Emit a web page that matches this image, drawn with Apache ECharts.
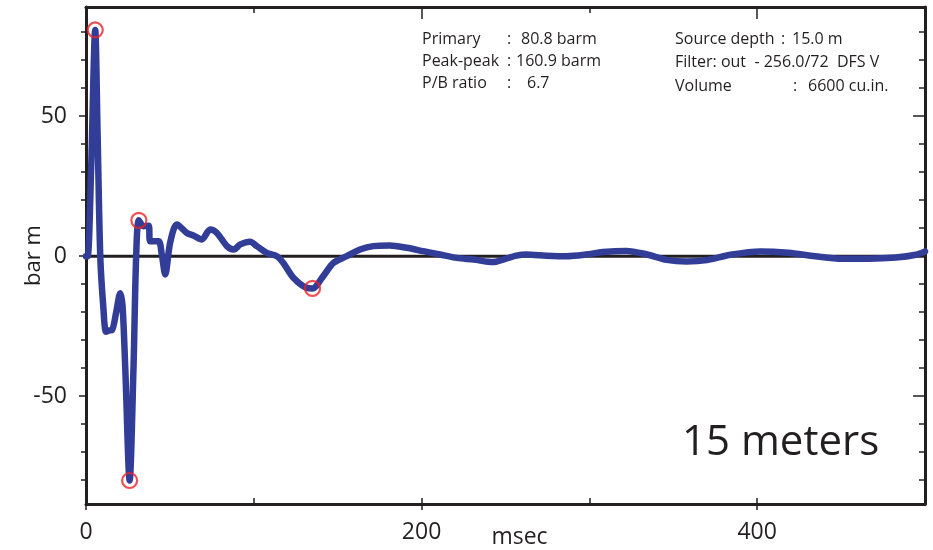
<!DOCTYPE html>
<html>
<head>
<meta charset="utf-8">
<script src="https://cdn.jsdelivr.net/npm/echarts@6/dist/echarts.min.js"></script>
<style>
  html, body { margin: 0; padding: 0; background: #fff; }
  #pulseChart { width: 933px; height: 550px; }
</style>
</head>
<body>
<div id="pulseChart"></div>
<script>
// signature (msec / bar m)
const timeMs = [0, 1, 3, 5.5, 6.9, 8.5, 10.3, 12, 14, 15.5, 18, 20.4, 21.8, 23.4, 26, 28.3, 29.9, 31.5,
  34.3, 37.3, 38.3, 43.2, 45.2, 47.2, 50.2, 54.2, 60.1, 64, 69, 74, 78, 84, 88, 92, 97.8, 101.8,
  107.7, 113.7, 117.6, 123.6, 131.5, 135, 141.4, 147.4, 155.4, 163.3, 171.2, 181, 191, 201, 211,
  221, 231, 242.6, 248.6, 256.5, 262.5, 274.4, 286.3, 298, 308, 322, 334, 346, 358, 370, 384,
  402, 418.5, 434.5, 450.5, 466.6, 482.6, 494.6, 500];
const pressure = [0, 0, 30, 80.8, 44, 0, -18, -27, -26.5, -26.4, -20, -13.2, -18, -40, -80.1, -40, 0, 12.8,
  10.7, 10.9, 5.3, 5.3, 0.5, -6.5, 5, 11.3, 8.3, 7.4, 6, 9.5, 8.3, 3.6, 2.4, 4.2, 5.2, 3.6,
  1.2, 0, -2.4, -7.7, -11.3, -11.5, -7.1, -2.4, 0, 2.4, 3.6, 3.8, 3, 1.8, 0.6,
  -0.6, -1.2, -2.1, -1.2, 0.2, 0.6, 0.2, 0, 0.6, 1.5, 1.9, 0.7, -1.3, -1.9, -1.4, 0.5,
  1.7, 1.2, 0, -0.9, -0.9, -0.5, 0.5, 1.7];

// picked peaks (red circles)
const peakTimeMs = [5.5, 26, 31.5, 135];
const peakPressure = [80.8, -80.1, 12.8, -11.5];

// axes
const timeRange = [0, 500];
const pressureRange = [-88.5, 89];
const xLabelTicks = [0, 200, 400];
const xInnerTicks = [100, 200, 300, 400];
const xTopMajorTicks = [200, 400];
const xTopMinorTicks = [100, 300];
const yLabelTicks = [-50, 0, 50];
const yMinorTicks = [-80, -70, -60, -40, -30, -20, -10, 10, 20, 30, 40, 60, 70, 80];

const ink = '#231f20';
const font = '"Open Sans", "Noto Sans", sans-serif';
const noteFont = '16px ' + font;

const chart = echarts.init(document.getElementById('pulseChart'));

function xAxisCfg(position, ticks, inside, len, lineShow, extra) {
  return Object.assign({
    type: 'value', position: position, min: timeRange[0], max: timeRange[1],
    axisLine: { show: lineShow, onZero: false, lineStyle: { color: ink, width: 3 } },
    axisTick: { show: true, inside: inside, length: len, customValues: ticks, lineStyle: { color: ink, width: 1.5 } },
    axisLabel: { show: false },
    splitLine: { show: false }
  }, extra || {});
}
function yAxisCfg(position, ticks, inside, len, lineShow, extra) {
  return Object.assign({
    type: 'value', position: position, min: pressureRange[0], max: pressureRange[1],
    axisLine: { show: lineShow, onZero: false, lineStyle: { color: ink, width: 3 } },
    axisTick: { show: true, inside: inside, length: len, customValues: ticks, lineStyle: { color: ink, width: 1.5 } },
    axisLabel: { show: false },
    splitLine: { show: false }
  }, extra || {});
}

function note(x, y, text) {
  return { type: 'text', x: x, y: y, style: { text: text, font: noteFont, fill: ink, verticalAlign: 'middle' } };
}

const option = {
  animation: false,
  backgroundColor: '#fff',
  grid: { left: 86, right: 8, top: 7, bottom: 46, outerBoundsMode: 'none', containLabel: false },
  xAxis: [
    xAxisCfg('bottom', xLabelTicks, false, 6, true, {
      name: 'msec', nameLocation: 'middle', nameGap: 22, nameMoveOverlap: false,
      nameTextStyle: { color: ink, fontSize: 23, fontFamily: font, padding: [0, 0, 0, 28] },
      axisLabel: { show: true, customValues: xLabelTicks, margin: 17, color: ink, fontSize: 23, fontFamily: font }
    }),
    xAxisCfg('bottom', xInnerTicks, true, 6, false),
    xAxisCfg('top', xTopMinorTicks, true, 6, true),
    xAxisCfg('top', xTopMajorTicks, true, 12, false)
  ],
  yAxis: [
    yAxisCfg('left', yLabelTicks, false, 7, true, {
      name: 'bar m', nameLocation: 'middle', nameGap: 41, nameRotate: 90, nameMoveOverlap: false,
      nameTextStyle: { color: ink, fontSize: 22, fontFamily: font },
      axisLabel: { show: true, customValues: yLabelTicks, margin: 19, color: ink, fontSize: 23, fontFamily: font }
    }),
    yAxisCfg('left', yMinorTicks, false, 5, false),
    yAxisCfg('right', yMinorTicks, true, 6, true),
    yAxisCfg('right', yLabelTicks, true, 12, false)
  ],
  series: [
    {
      name: 'zero',
      type: 'line',
      silent: true,
      symbol: 'none',
      lineStyle: { color: ink, width: 3 },
      data: timeRange.map(t => [t, 0]),
      z: 1
    },
    {
      name: 'Signature',
      type: 'line',
      smooth: 0.3,
      symbol: 'none',
      lineStyle: { color: '#323d97', width: 6.5, join: 'round', cap: 'round' },
      data: timeMs.map((t, i) => [t, pressure[i]]),
      z: 2
    },
    {
      name: 'Peaks',
      type: 'scatter',
      symbol: 'circle',
      symbolSize: 15,
      itemStyle: { color: 'rgba(0,0,0,0)', borderColor: '#ec2227', borderWidth: 2.2 },
      data: peakTimeMs.map((t, i) => [t, peakPressure[i]]),
      z: 3
    }
  ],
  graphic: [
    note(422, 39, 'Primary'), note(507, 39, ':'), note(521, 39, '80.8 barm'),
    note(422, 61, 'Peak-peak'), note(507, 61, ':'), note(516, 61, '160.9 barm'),
    note(422, 83, 'P/B ratio'), note(507, 83, ':'), note(527, 83, '6.7'),
    note(675, 39, 'Source depth'), note(781, 39, ':'), note(792, 39, '15.0 m'),
    note(675, 62, 'Filter: out  - 256.0/72  DFS V'),
    note(675, 86, 'Volume'), note(793, 86, ':'), note(808, 86, '6600 cu.in.'),
    // depth caption
    { type: 'text', x: 682, y: 443, style: { text: '15 meters', font: '42px ' + font, fill: ink, verticalAlign: 'middle' } }
  ]
};

chart.setOption(option);
window.addEventListener('resize', () => chart.resize());
</script>
</body>
</html>
